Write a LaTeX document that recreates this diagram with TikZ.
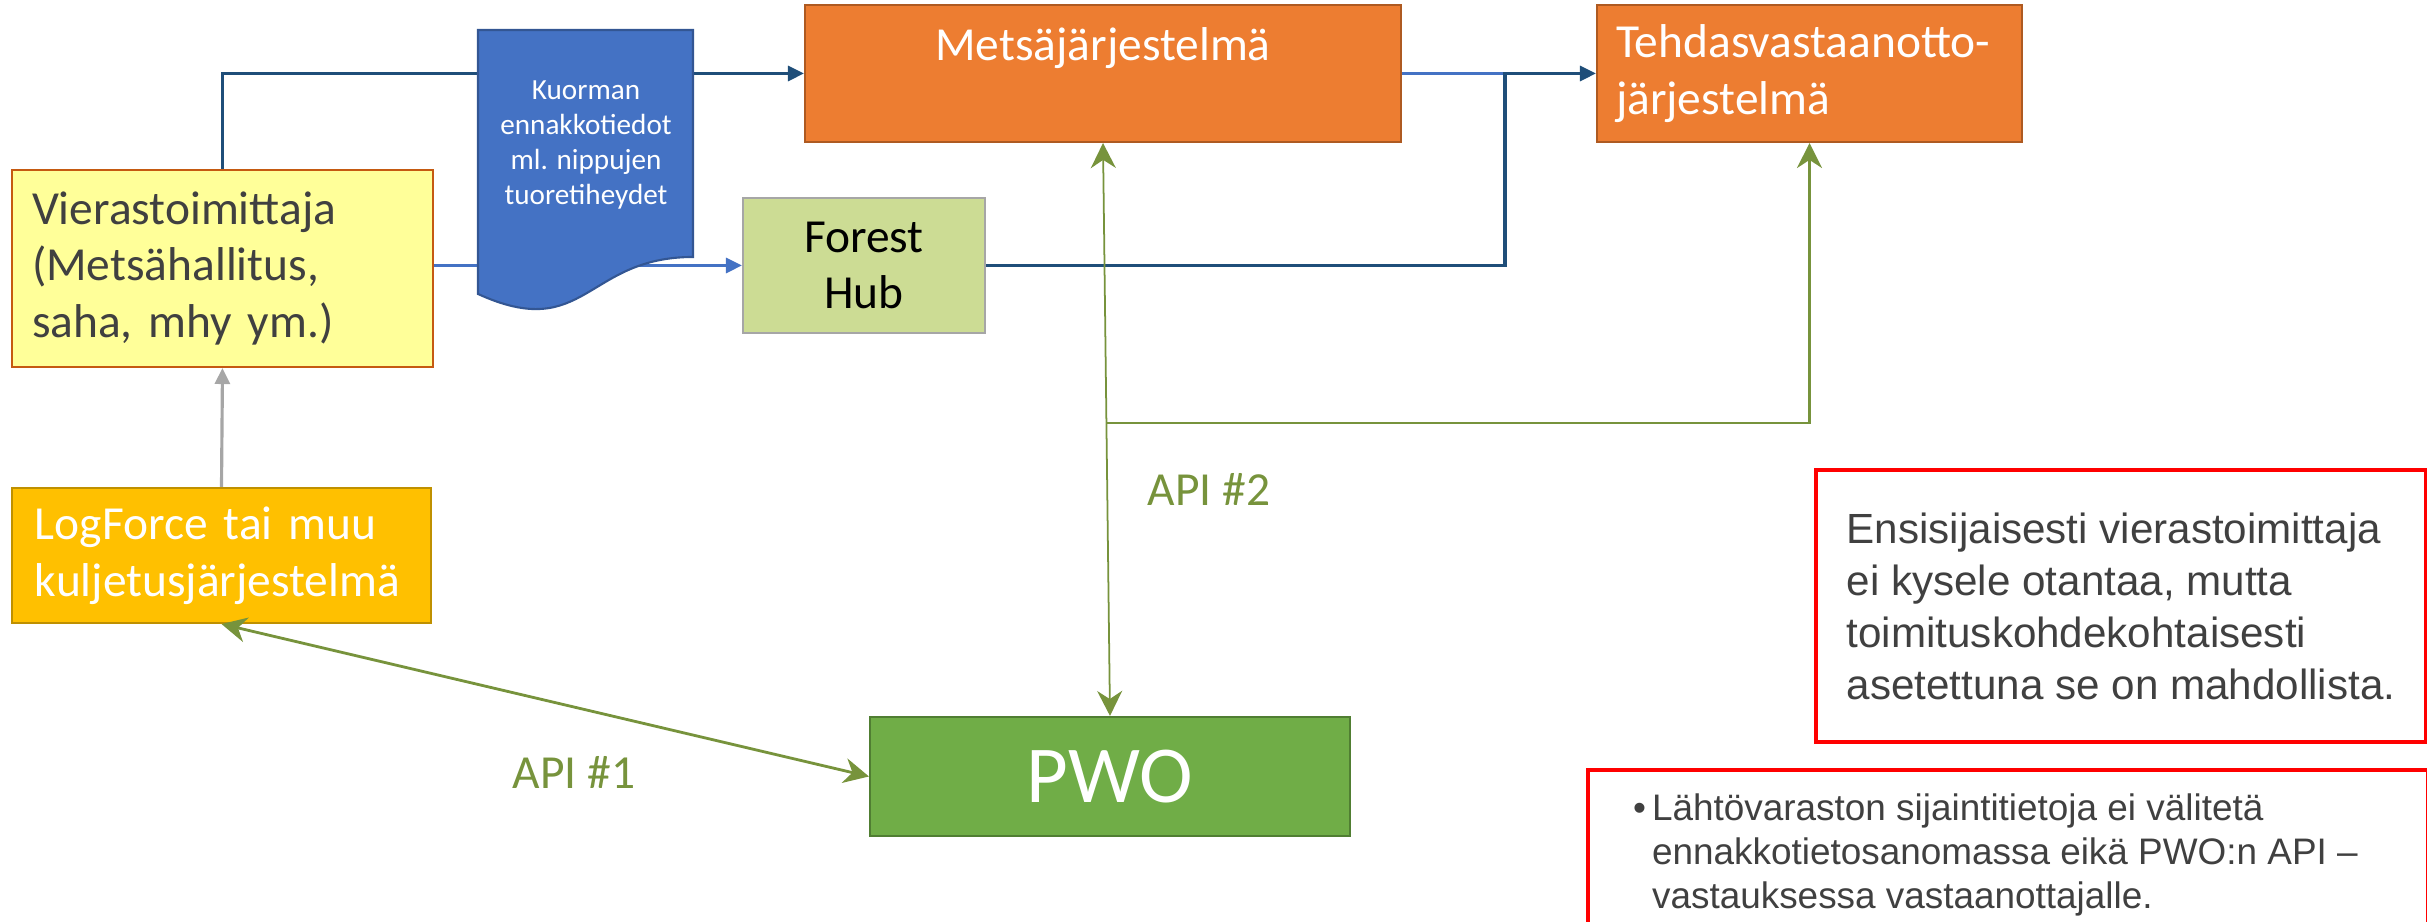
\documentclass[tikz,border=0pt]{standalone}
\usepackage{fontspec}
\setmainfont{Carlito}
\newfontfamily\notefont{Liberation Sans}
\usetikzlibrary{arrows.meta}

\definecolor{orng}{HTML}{ED7D31}
\definecolor{orngdark}{HTML}{AE5A21}
\definecolor{yelfill}{HTML}{FFFF99}
\definecolor{yeldraw}{HTML}{C55A11}
\definecolor{docblue}{HTML}{4472C4}
\definecolor{darkblue}{HTML}{1F4E79}
\definecolor{gold}{HTML}{FFC000}
\definecolor{golddark}{HTML}{BF9000}
\definecolor{hubgreen}{HTML}{CCDC94}
\definecolor{pwogreen}{HTML}{70AD47}
\definecolor{pwodark}{HTML}{507E32}
\definecolor{apigreen}{HTML}{77933C}
\definecolor{txtgray}{HTML}{404040}

\begin{document}
\begin{tikzpicture}[
    box/.style={draw, line width=0.6pt, inner sep=0pt,
      font=\fontsize{13.5}{16.2}\selectfont},
    bluearr/.style={line width=0.9pt, -{Triangle[length=0.16cm,width=0.15cm]}},
    greenarr/.style={apigreen, -{Stealth[length=0.25cm,width=0.25cm]}},
    apiarr/.style={apigreen, {Stealth[length=0.25cm,width=0.25cm]}-{Stealth[length=0.25cm,width=0.25cm]}},
    apitext/.style={text=apigreen, font=\fontsize{13.5}{16.2}\selectfont},
    note/.style={draw=red, line width=1.2pt, text=txtgray}
  ]
  \useasboundingbox (0,0) rectangle (24.27,9.22);

  % systems
  \node [box, fill=orng, draw=orngdark, text=white, minimum width=5.96cm,
    text height=0.5cm, text depth=0.75cm, inner ysep=0.06cm] (mets) at (11.03,8.485) {Metsäjärjestelmä};
  \node [box, fill=orng, draw=orngdark, text=white, align=left, text width=3.87cm,
    inner xsep=0.19cm, minimum height=1.37cm] (tehd) at (18.095,8.485) {Tehdasvastaanotto-\\järjestelmä};
  \node [box, fill=yelfill, draw=yeldraw, text=txtgray, align=left, text width=3.81cm,
    inner xsep=0.2cm, minimum height=1.97cm] (vier) at (2.225,6.535) {Vierastoimittaja\\(Metsähallitus,\\saha, mhy ym.)};
  \node [box, fill=hubgreen, draw=gray!70, text=black, align=center,
    minimum width=2.42cm, minimum height=1.35cm] (hub) at (8.64,6.565) {Forest\\Hub};
  \node [box, fill=gold, draw=golddark, text=white, align=left, text width=3.73cm,
    inner xsep=0.23cm, minimum height=1.35cm] (logf) at (2.215,3.665) {LogForce tai muu\\kuljetusjärjestelmä};
  \node [box, fill=pwogreen, draw=pwodark, text=white, font=\fontsize{23}{27}\selectfont,
    minimum width=4.80cm, minimum height=1.19cm] (pwo) at (11.10,1.455) {PWO};

  % data flows
  \coordinate (join) at (15.05,8.485);
  \coordinate (split) at (11.06,4.99);
  \draw [darkblue, bluearr] (vier.north) |- (mets.west);
  \draw [docblue, bluearr] (vier.east |- hub.west) -- (hub.west);
  \draw [docblue, line width=0.9pt] (mets.east) -- (join);
  \draw [darkblue, bluearr] (hub.east) -| (join) -- (tehd.west);
  \draw [gray!70, line width=0.9pt, -{Triangle[length=0.16cm,width=0.15cm]}] (logf.north) -- (vier.south);

  % APIs
  \draw [apiarr, line width=0.8pt] (logf.south) -- (pwo.west);
  \draw [apiarr, line width=0.5pt] (mets.south) -- (pwo.north);
  \draw [greenarr, line width=0.8pt] (split) -| (tehd.south);
  \node [apitext] (api1) at (5.74,1.50) {API \#1};
  \node [apitext] (api2) at (12.09,4.32) {API \#2};

  % document shape
  \draw [fill=docblue, draw=docblue!75!black, line width=0.6pt]
    (4.78,8.92) -- (6.93,8.92) -- (6.93,6.65)
    .. controls (5.855,6.65) and (5.855,5.79) .. (4.78,6.28) -- cycle;
  \node [text=white, align=center, font=\fontsize{8.3}{10}\selectfont] (doc) at (5.86,7.77)
    {Kuorman\\ennakkotiedot\\ml. nippujen\\tuoretiheydet};

  % notes
  \node [note, align=left, minimum width=6.10cm, minimum height=2.72cm,
    font=\notefont\fontsize{12}{14.8}\selectfont] (note1) at (21.21,3.16)
    {Ensisijaisesti vierastoimittaja\\ei kysele otantaa, mutta\\toimituskohdekohtaisesti\\asetettuna se on mahdollista.};
  \node [note, anchor=north west, inner xsep=0.45cm, inner ysep=0.2cm, text depth=1.6cm,
    font=\notefont\fontsize{10.5}{12.5}\selectfont] (note2) at (15.86,1.54)
    {\begin{tabular}[t]{@{}p{0.19cm}@{}p{7.31cm}@{}}
      \textbullet & Lähtövaraston sijaintitietoja ei välitetä\\
      & ennakkotietosanomassa eikä PWO:n API –\\
      & vastauksessa vastaanottajalle.
    \end{tabular}};
\end{tikzpicture}
\end{document}
